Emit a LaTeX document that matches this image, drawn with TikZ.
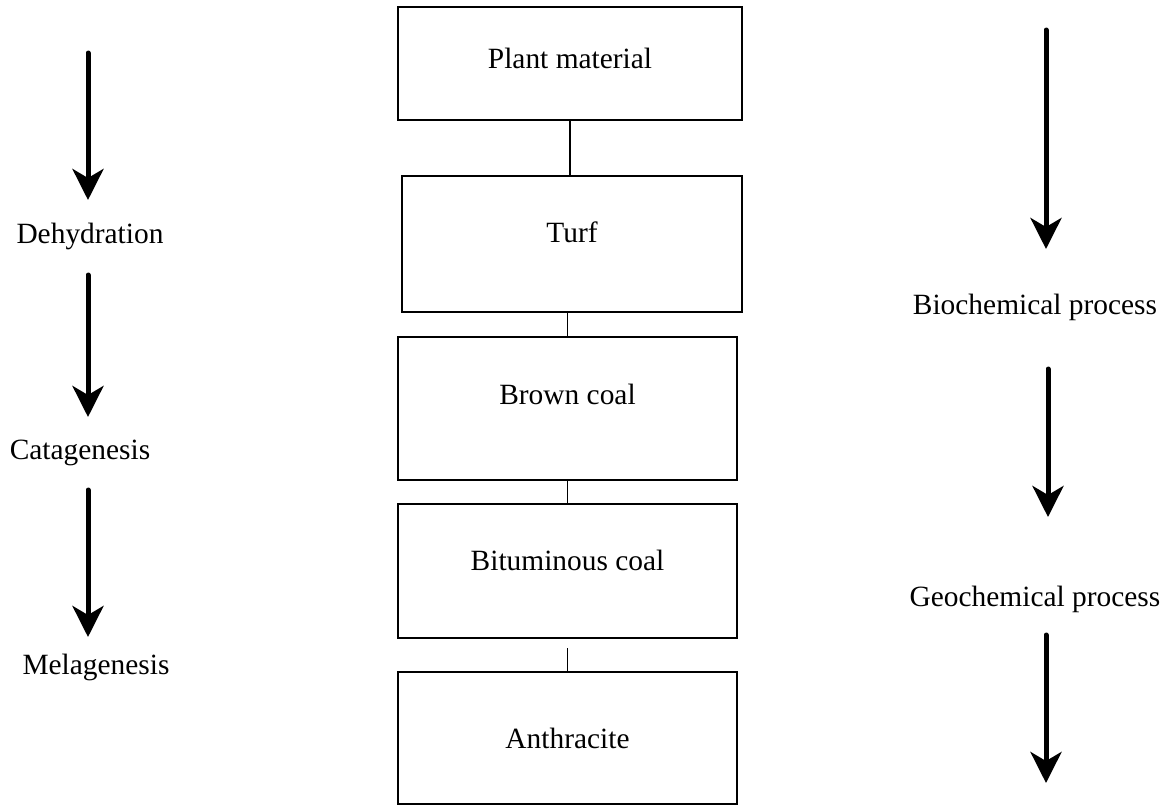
\documentclass[tikz,border=0pt]{standalone}
\usepackage{fontspec}
\setmainfont{Liberation Serif}
\usetikzlibrary{arrows.meta}

\begin{document}
\begin{tikzpicture}[x=1pt,y=-1pt,
  every node/.style={font=\fontsize{29.4}{34}\selectfont},
  box/.style={draw,line width=1.5pt,inner sep=0pt,text height=20pt},
  link/.style={line width=1.5pt},
  flow/.style={line width=5pt,line cap=round,-{Stealth[length=31pt,width=31pt,inset=9pt]}}]
\useasboundingbox (0,0) rectangle (1164,806);
% coal series
\node[box,minimum width=344pt,minimum height=113pt,text depth=11pt] (plant) at (570,63.5) {Plant material};
\node[box,minimum width=340pt,minimum height=136pt,text depth=24pt] (turf) at (572,244) {Turf};
\node[box,minimum width=339pt,minimum height=143pt,text depth=28pt] (brown) at (567.5,408.5) {Brown coal};
\node[box,minimum width=339pt,minimum height=134pt,text depth=22pt] (bitum) at (567.5,571) {Bituminous coal};
\node[box,minimum width=339pt,minimum height=132pt,text depth=0pt] (anthr) at (567.5,738) {Anthracite};
\draw[link] (plant.south) -- (plant.south |- turf.north);
\draw[link] (turf.south -| brown.north) -- (brown.north);
\draw[link] (brown.south) -- (bitum.north);
\coordinate (gap) at (567.5,648);
\draw[link] (gap) -- (anthr.north);
% stages
\node (dehyd) at (90,236) {Dehydration};
\node (catag) at (80,453) {Catagenesis};
\node (melag) at (96,667) {Melagenesis};
\coordinate (l1s) at (88,53);  \coordinate (l1e) at (88,200);
\coordinate (l2s) at (88,275); \coordinate (l2e) at (88,417);
\coordinate (l3s) at (88,490); \coordinate (l3e) at (88,637);
\draw[flow] (l1s) -- (l1e);
\draw[flow] (l2s) -- (l2e);
\draw[flow] (l3s) -- (l3e);
% processes
\node (bio) at (1035,307) {Biochemical process};
\node (geo) at (1035,599) {Geochemical process};
\coordinate (r1s) at (1046,30);  \coordinate (r1e) at (1046,249);
\coordinate (r2s) at (1048,369); \coordinate (r2e) at (1048,517);
\coordinate (r3s) at (1046,635); \coordinate (r3e) at (1046,783);
\draw[flow] (r1s) -- (r1e);
\draw[flow] (r2s) -- (r2e);
\draw[flow] (r3s) -- (r3e);
\end{tikzpicture}
\end{document}
